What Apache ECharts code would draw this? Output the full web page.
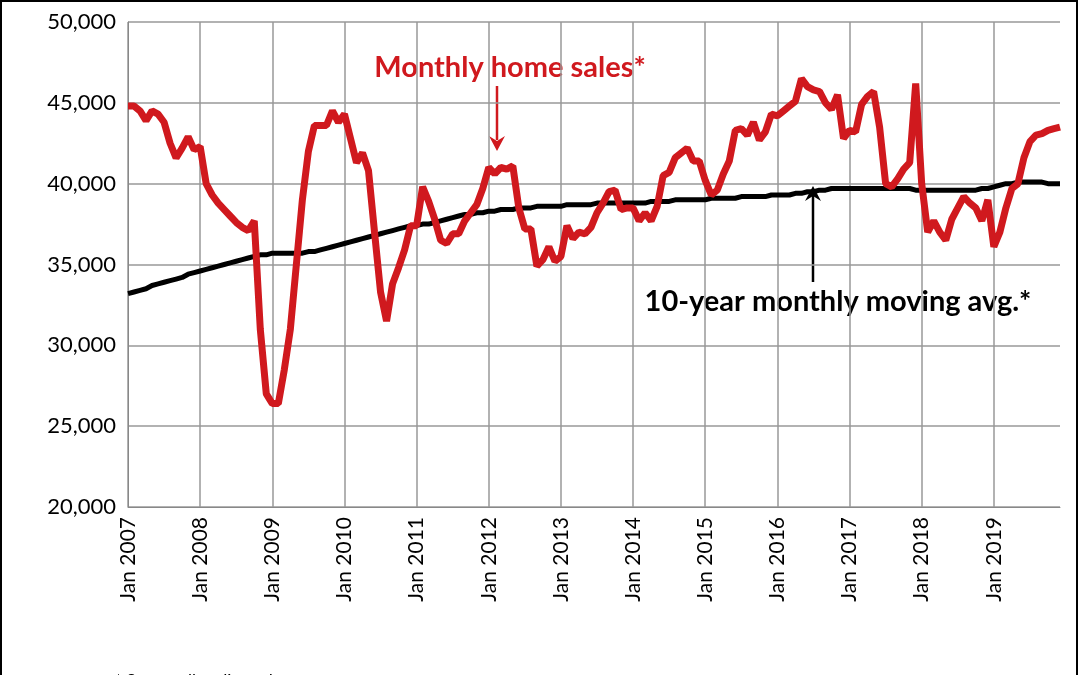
<!DOCTYPE html>
<html><head><meta charset="utf-8">
<script src="https://cdn.jsdelivr.net/npm/echarts@6/dist/echarts.min.js"></script>
<style>html,body{margin:0;padding:0;background:#fff}#c{width:1079px;height:675px}</style>
</head><body><div id="c"></div>
<script>
const years = [2007,2008,2009,2010,2011,2012,2013,2014,2015,2016,2017,2018,2019];
const months = ['Jan','Feb','Mar','Apr','May','Jun','Jul','Aug','Sep','Oct','Nov','Dec'];
const categories = [];
years.forEach(y => months.forEach(m => categories.push(m + ' ' + y)));
const yTicks = [20000, 25000, 30000, 35000, 40000, 45000, 50000];

const sales2007 = [44800,44800,44500,43900,44500,44300,43800,42500,41600,42200,42900,42100];
const sales2008 = [42300,40000,39300,38800,38400,38000,37600,37300,37100,37700,31000,27000];
const sales2009 = [26400,26400,28500,31000,35000,39000,42000,43600,43600,43600,44500,43800];
const sales2010 = [44300,42800,41300,41900,40800,37000,33300,31500,33800,34800,35900,37400];
const sales2011 = [37400,39800,38900,37800,36500,36300,36900,36900,37700,38200,38700,39700];
const sales2012 = [41000,40600,41000,40900,41100,38500,37200,37200,34900,35300,36100,35200];
const sales2013 = [35500,37400,36600,37000,36900,37300,38200,38800,39500,39600,38400,38500];
const sales2014 = [38500,37700,38200,37700,38600,40500,40700,41600,41900,42200,41400,41400];
const sales2015 = [40200,39300,39600,40600,41400,43300,43400,43000,43800,42700,43200,44300];
const sales2016 = [44200,44500,44800,45100,46500,46000,45800,45700,45000,44600,45500,42800];
const sales2017 = [43300,43200,44900,45400,45700,43500,40000,39800,40300,40900,41300,46200];
const sales2018 = [40000,37000,37700,37000,36500,37800,38500,39200,38800,38500,37700,39000];
const sales2019 = [36100,37000,38500,39700,40000,41600,42600,43000,43100,43300,43400,43500];

const avg2007 = [33200,33300,33400,33500,33700,33800,33900,34000,34100,34200,34400,34500];
const avg2008 = [34600,34700,34800,34900,35000,35100,35200,35300,35400,35500,35600,35600];
const avg2009 = [35700,35700,35700,35700,35700,35700,35800,35800,35900,36000,36100,36200];
const avg2010 = [36300,36400,36500,36600,36700,36800,36900,37000,37100,37200,37300,37400];
const avg2011 = [37400,37500,37500,37600,37700,37800,37900,38000,38100,38100,38200,38200];
const avg2012 = [38300,38300,38400,38400,38400,38500,38500,38500,38600,38600,38600,38600];
const avg2013 = [38600,38700,38700,38700,38700,38700,38800,38800,38800,38800,38800,38800];
const avg2014 = [38800,38800,38800,38900,38900,38900,38900,39000,39000,39000,39000,39000];
const avg2015 = [39000,39100,39100,39100,39100,39100,39200,39200,39200,39200,39200,39300];
const avg2016 = [39300,39300,39300,39400,39400,39500,39500,39600,39600,39700,39700,39700];
const avg2017 = [39700,39700,39700,39700,39700,39700,39700,39700,39700,39700,39700,39600];
const avg2018 = [39600,39600,39600,39600,39600,39600,39600,39600,39600,39600,39700,39700];
const avg2019 = [39800,39900,40000,40000,40100,40100,40100,40100,40100,40000,40000,40000];

const sales = [].concat(sales2007,sales2008,sales2009,sales2010,sales2011,sales2012,sales2013,sales2014,sales2015,sales2016,sales2017,sales2018,sales2019);
const avg = [].concat(avg2007,avg2008,avg2009,avg2010,avg2011,avg2012,avg2013,avg2014,avg2015,avg2016,avg2017,avg2018,avg2019);

const F = "Lato, 'Open Sans', sans-serif";
const chart = echarts.init(document.getElementById('c'));
chart.setOption({
  animation: false,
  grid: {left: 128, right: 19, top: 22, bottom: 168},
  xAxis: {
    type: 'category', data: categories, boundaryGap: false,
    axisLine: {lineStyle: {color: '#888', width: 1}},
    axisTick: {show: false},
    axisLabel: {interval: 11, rotate: 90, color: '#000', fontSize: 21, fontFamily: F, margin: 10},
    splitLine: {show: true, interval: 11, lineStyle: {color: '#999', width: 1.5}}
  },
  yAxis: {
    type: 'value', min: yTicks[0], max: yTicks[yTicks.length-1], interval: 5000,
    axisLine: {show: true, lineStyle: {color: '#888'}},
    axisTick: {show: false},
    axisLabel: {color: '#000', fontSize: 22, fontFamily: F, margin: 12,
      formatter: v => v.toLocaleString('en-US')},
    splitLine: {lineStyle: {color: '#999', width: 1.5}}
  },
  series: [
    {type: 'line', data: avg, symbol: 'none', lineStyle: {color: '#000', width: 5}, z: 2},
    {type: 'line', data: sales, symbol: 'none', lineStyle: {color: '#d0191e', width: 7}, z: 3}
  ],
  graphic: [
    {type: 'rect', shape: {x: 1, y: 1, width: 1076, height: 680}, style: {fill: 'none', stroke: '#000', lineWidth: 2}, silent: true},
    {type: 'text', x: 510, y: 68, style: {text: 'Monthly home sales*', fill: '#d0191e', font: "bold 29px " + F, textAlign: 'center', textVerticalAlign: 'middle'}},
    {type: 'line', shape: {x1: 497, y1: 86, x2: 497, y2: 140}, style: {stroke: '#d0191e', lineWidth: 2.5}},
    {type: 'polygon', shape: {points: [[489,136],[497,151],[505,136],[497,141]]}, style: {fill: '#d0191e'}},
    {type: 'text', x: 838, y: 302, style: {text: '10-year monthly moving avg.*', fill: '#000', font: "bold 29px " + F, textAlign: 'center', textVerticalAlign: 'middle'}},
    {type: 'line', shape: {x1: 813, y1: 282, x2: 813, y2: 196}, style: {stroke: '#000', lineWidth: 2.5}},
    {type: 'polygon', shape: {points: [[805,201],[813,186],[821,201],[813,196]]}, style: {fill: '#000'}},
    {type: 'text', x: 115, y: 682, style: {text: '* Seasonally adjusted', fill: '#000', font: "17px " + F, textVerticalAlign: 'middle'}}
  ]
});
</script></body></html>
